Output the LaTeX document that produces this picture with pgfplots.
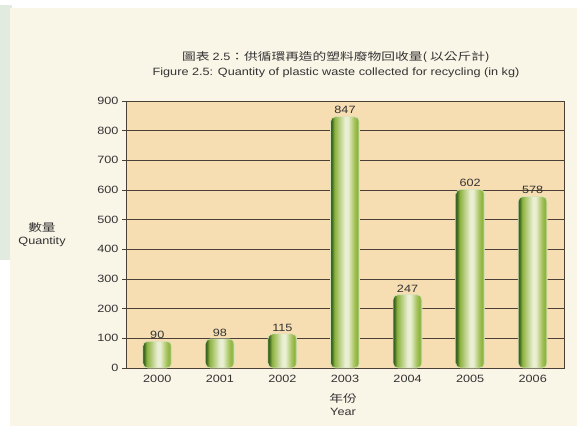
\documentclass[border=0pt]{standalone}
\usepackage{pgfplots}
\pgfplotsset{compat=1.18}
\usepackage{fontspec}
\setmainfont{Liberation Sans}[FakeStretch=1.2]
\newfontfamily\cjk{Noto Sans CJK TC}[FakeStretch=1.3]
\definecolor{bgcream}{HTML}{F9F5E7}
\definecolor{bggreen}{HTML}{E2EBDF}
\definecolor{plotbg}{HTML}{F6DDB2}
\definecolor{gridc}{HTML}{4A4038}
\definecolor{gA}{HTML}{3A6420}
\definecolor{gB}{HTML}{8CB23E}
\definecolor{gC}{HTML}{EAEFD3}
\definecolor{gD}{HTML}{A4C25A}
\definecolor{gE}{HTML}{D8E3BC}
\pgfdeclarehorizontalshading{barshade}{100bp}{color(0bp)=(gA); color(25bp)=(gA); color(27bp)=(gA); color(32bp)=(gB); color(50bp)=(gC); color(55bp)=(gC); color(66bp)=(gD); color(71bp)=(gB); color(75bp)=(gE); color(100bp)=(gE)}
\newcommand\fs{\fontsize{10.6}{13}\selectfont}
\begin{document}
\begin{tikzpicture}
\useasboundingbox (0bp,0bp) rectangle (577bp,426bp);
\fill[white] (0bp,0bp) rectangle (577bp,426bp);
\fill[bggreen] (0bp,166bp) rectangle (12bp,421bp);
\fill[bgcream] (10bp,0bp) rectangle (577bp,418bp);
\node[font=\fs, text=black!80] at (336bp,369bp) {\cjk 圖表 \rmfamily 2.5\cjk ：供循環再造的塑料廢物回收量( 以公斤計)};
\node[font=\fs, text=black!80] at (336bp,353bp) {Figure 2.5: Quantity of plastic waste collected for recycling (in kg)};
\node[font=\fs, text=black!80, align=center] at (42bp,191bp) {{\cjk 數量}\\Quantity};
\node[font=\fs, text=black!80, align=center] at (343bp,21bp) {{\cjk 年份}\\Year};
\begin{axis}[
  at={(126bp,58bp)}, anchor=south west,
  scale only axis, width=438bp, height=267bp,
  xmin=-0.5, xmax=6.5, ymin=0, ymax=900,
  axis background/.style={fill=plotbg},
  axis line style={gridc, line width=0.8pt},
  xtick={0,...,6}, xticklabels={2000,2001,2002,2003,2004,2005,2006},
  major x tick style={draw=none},
  ytick={0,100,...,900},
  ytick pos=left, xtick pos=bottom,
  ytick style={gridc, line width=0.6pt},
  tick align=outside, major tick length=4bp,
  ymajorgrids, grid style={gridc, line width=0.9pt},
  ticklabel style={font=\fs, text=black!80},
  /pgf/number format/assume math mode=true,
  ybar, bar width=29bp, bar shift=0pt,
  nodes near coords,
  nodes near coords style={font=\fs, text=black!80, yshift=-1pt},
  barsty/.style={draw=gE, line width=0.6pt, shading=barshade, rounded corners=5bp},
  clip=false,
]
\addplot[barsty] coordinates {(0,90)};
\addplot[barsty] coordinates {(1,98)};
\addplot[barsty] coordinates {(2,115)};
\addplot[barsty] coordinates {(3,847)};
\addplot[barsty] coordinates {(4,247)};
\addplot[barsty] coordinates {(5,602)};
\addplot[barsty] coordinates {(6,578)};
\end{axis}
\end{tikzpicture}
\end{document}
